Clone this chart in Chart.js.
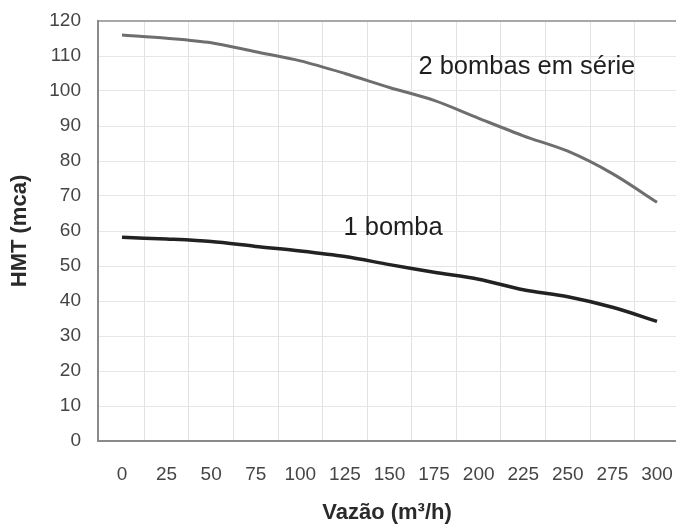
<!DOCTYPE html>
<html>
<head>
<meta charset="utf-8">
<script src="https://cdn.jsdelivr.net/npm/chart.js@4/dist/chart.umd.min.js"></script>
<style>
  html, body { margin: 0; padding: 0; background: #fff; }
  #wrap { width: 676px; height: 524px; position: relative; }
</style>
</head>
<body>
<div id="wrap"><canvas id="c" width="676" height="524"></canvas></div>
<script>
// ---- data ----
const xValues = [0, 25, 50, 75, 100, 125, 150, 175, 200, 225, 250, 275, 300];
const bombas2Serie = [116, 115.1, 113.8, 111.2, 108.6, 105, 101, 97.3, 92.2, 87.2, 82.8, 76.4, 68.2];
const bomba1 = [58.2, 57.7, 57, 55.6, 54.3, 52.7, 50.4, 48.2, 46.2, 43.2, 41.2, 38.2, 34.2];
const xTicks = [0, 25, 50, 75, 100, 125, 150, 175, 200, 225, 250, 275, 300];
const xGridTicks = [12.5, 37.5, 62.5, 87.5, 112.5, 137.5, 162.5, 187.5, 212.5, 237.5, 262.5, 287.5];
const seriesLabels = ['2 bombas em série', '1 bomba'];
const annotationPos = [[227, 107], [152, 61]];
const xTitle = 'Vazão (m³/h)';
const yTitle = 'HMT (mca)';

const toPoints = (ys) => xValues.map((x, i) => ({ x: x, y: ys[i] }));

const annotationPlugin = {
  id: 'curveLabels',
  afterDatasetsDraw(chart) {
    const { ctx, scales } = chart;
    ctx.save();
    ctx.font = '25.5px "Liberation Sans", Arial, sans-serif';
    ctx.fillStyle = '#1e1e1e';
    ctx.textAlign = 'center';
    ctx.textBaseline = 'middle';
    seriesLabels.forEach((t, i) => {
      const px = scales.x.getPixelForValue(annotationPos[i][0]);
      const py = scales.y.getPixelForValue(annotationPos[i][1]);
      ctx.fillText(t, px, py);
    });
    ctx.restore();
  }
};

new Chart(document.getElementById('c'), {
  type: 'line',
  data: {
    datasets: [
      { label: seriesLabels[0], data: toPoints(bombas2Serie), borderColor: '#6e6e6e', borderWidth: 3, pointRadius: 0, tension: 0.3, fill: false },
      { label: seriesLabels[1], data: toPoints(bomba1), borderColor: '#222222', borderWidth: 3.5, pointRadius: 0, tension: 0.3, fill: false }
    ]
  },
  options: {
    responsive: false,
    animation: false,
    devicePixelRatio: 1,
    layout: { padding: { top: 21, right: 0, bottom: 0, left: 0 } },
    plugins: { legend: { display: false }, tooltip: { enabled: false } },
    scales: {
      x: {
        type: 'linear',
        position: 'bottom',
        min: -13.46,
        max: 310.65,
        afterBuildTicks: (axis) => { axis.ticks = xTicks.map(v => ({ value: v })); },
        afterFit: (axis) => { axis.height = 83; },
        grid: { drawOnChartArea: false, drawTicks: true, tickLength: 22, tickColor: 'rgba(0,0,0,0)', color: 'rgba(0,0,0,0)' },
        border: { display: true, color: '#8a8a8a', width: 2 },
        ticks: {
          padding: 0,
          maxRotation: 0,
          autoSkip: false,
          color: '#454545',
          font: { family: '"Liberation Sans", Arial, sans-serif', size: 19 }
        },
        title: {
          display: true,
          text: xTitle,
          color: '#2a2a2a',
          padding: { top: 0, bottom: -2 },
          font: { family: '"Liberation Sans", Arial, sans-serif', size: 22, weight: 'bold' }
        }
      },
      xg: {
        type: 'linear',
        position: 'bottom',
        min: -13.46,
        max: 310.65,
        afterBuildTicks: (axis) => { axis.ticks = xGridTicks.map(v => ({ value: v })); },
        afterFit: (axis) => { axis.height = 0; },
        grid: { drawTicks: false, color: '#e2e2e2', lineWidth: 1 },
        border: { display: false },
        ticks: { display: false }
      },
      y: {
        min: 0,
        max: 120,
        afterFit: (axis) => { axis.width = 98; },
        ticks: {
          stepSize: 10,
          padding: 0,
          color: '#454545',
          font: { family: '"Liberation Sans", Arial, sans-serif', size: 19 }
        },
        grid: {
          drawTicks: true,
          tickLength: 17,
          tickColor: 'rgba(0,0,0,0)',
          color: (c) => (c.tick && c.tick.value === 120 ? '#a8a8a8' : '#e6e6e6'),
          lineWidth: (c) => (c.tick && c.tick.value === 120 ? 2 : 1)
        },
        border: { display: true, color: '#8a8a8a', width: 2 },
        title: {
          display: true,
          text: yTitle,
          color: '#2a2a2a',
          padding: { top: 7, bottom: 0 },
          font: { family: '"Liberation Sans", Arial, sans-serif', size: 22, weight: 'bold' }
        }
      }
    }
  },
  plugins: [annotationPlugin]
});
</script>
</body>
</html>
